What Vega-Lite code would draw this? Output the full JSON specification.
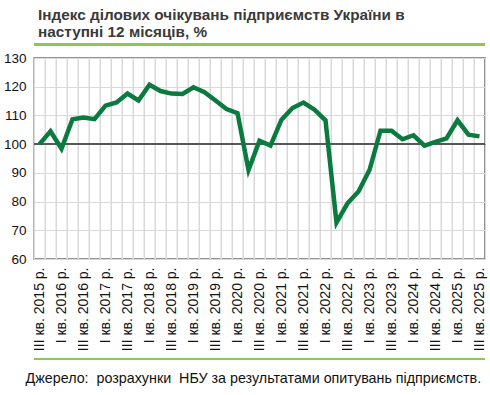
{
  "$schema": "https://vega.github.io/schema/vega-lite/v6.json",
  "autosize": {"type": "none"},
  "width": 451,
  "height": 201,
  "padding": {"left": 34, "top": 58, "right": 5, "bottom": 136},
  "background": "white",
  "config": {
    "font": "Liberation Sans",
    "view": {"stroke": "#707070", "strokeWidth": 1.5}
  },
  "title": {
    "text": ["Індекс ділових очікувань підприємств України в", "наступні 12 місяців, %"],
    "anchor": "start",
    "frame": "group",
    "dx": 4,
    "offset": 3,
    "fontSize": 15.3,
    "fontWeight": "bold",
    "lineHeight": 17,
    "color": "#3a3a3a",
    "font": "Liberation Sans"
  },
  "data": {
    "values": [
      {"q": "III кв. 2015 р.", "v": 100},
      {"q": "IV кв. 2015 р.", "v": 104.5},
      {"q": "I кв. 2016 р.", "v": 98.4},
      {"q": "II кв. 2016 р.", "v": 108.7},
      {"q": "III кв. 2016 р.", "v": 109.3},
      {"q": "IV кв. 2016 р.", "v": 108.7},
      {"q": "I кв. 2017 р.", "v": 113.4},
      {"q": "II кв. 2017 р.", "v": 114.5},
      {"q": "III кв. 2017 р.", "v": 117.6},
      {"q": "IV кв. 2017 р.", "v": 115.2},
      {"q": "I кв. 2018 р.", "v": 120.7},
      {"q": "II кв. 2018 р.", "v": 118.5},
      {"q": "III кв. 2018 р.", "v": 117.6},
      {"q": "IV кв. 2018 р.", "v": 117.5},
      {"q": "I кв. 2019 р.", "v": 119.8},
      {"q": "II кв. 2019 р.", "v": 118.1},
      {"q": "III кв. 2019 р.", "v": 115.2},
      {"q": "IV кв. 2019 р.", "v": 112.2},
      {"q": "I кв. 2020 р.", "v": 110.8},
      {"q": "II кв. 2020 р.", "v": 91.0},
      {"q": "III кв. 2020 р.", "v": 101.2},
      {"q": "IV кв. 2020 р.", "v": 99.5},
      {"q": "I кв. 2021 р.", "v": 108.5},
      {"q": "II кв. 2021 р.", "v": 112.6},
      {"q": "III кв. 2021 р.", "v": 114.5},
      {"q": "IV кв. 2021 р.", "v": 112.0},
      {"q": "I кв. 2022 р.", "v": 108.3},
      {"q": "II кв. 2022 р.", "v": 72.7},
      {"q": "III кв. 2022 р.", "v": 79.4},
      {"q": "IV кв. 2022 р.", "v": 83.5},
      {"q": "I кв. 2023 р.", "v": 91.0},
      {"q": "II кв. 2023 р.", "v": 104.7},
      {"q": "III кв. 2023 р.", "v": 104.7},
      {"q": "IV кв. 2023 р.", "v": 101.7},
      {"q": "I кв. 2024 р.", "v": 103.1},
      {"q": "II кв. 2024 р.", "v": 99.5},
      {"q": "III кв. 2024 р.", "v": 100.8},
      {"q": "IV кв. 2024 р.", "v": 102.0},
      {"q": "I кв. 2025 р.", "v": 108.3},
      {"q": "II кв. 2025 р.", "v": 103.3},
      {"q": "III кв. 2025 р.", "v": 102.7}
    ]
  },
  "layer": [
    {
      "mark": {"type": "rule", "color": "#d9d9d9", "strokeWidth": 1},
      "encoding": {
        "x": {
          "field": "q",
          "type": "ordinal",
          "sort": null,
          "bandPosition": 0,
          "scale": {"type": "band", "paddingInner": 0, "paddingOuter": 0},
          "axis": {
            "title": "Джерело:\u00a0 розрахунки\u00a0 НБУ за результатами опитувань підприємств.",
            "titleFontSize": 14.3,
            "titleFontWeight": "normal",
            "titleColor": "#111111",
            "titleAnchor": "start",
            "titleAlign": "left",
            "titleBaseline": "middle",
            "titleX": -9,
            "titleY": 119,
            "labelExpr": "isString(datum.value) && (indexof(datum.value, 'I кв.') === 0 || indexof(datum.value, 'III кв.') === 0) ? datum.value : ''",
            "labelAngle": -90,
            "labelFontSize": 14,
            "labelColor": "#111111",
            "labelPadding": 8,
            "labelOverlap": false,
            "ticks": false,
            "domain": false,
            "grid": true,
            "tickBand": "extent",
            "gridColor": "#d9d9d9",
            "gridWidth": 1
          }
        },
        "y": {
          "datum": 60,
          "type": "quantitative",
          "scale": {"domain": [60, 130], "nice": false, "zero": false},
          "axis": {
            "title": null,
            "values": [60, 70, 80, 90, 100, 110, 120, 130],
            "labelFontSize": 13.5,
            "labelColor": "#111111",
            "labelPadding": 8,
            "labelOverlap": false,
            "ticks": false,
            "domain": false,
            "grid": true,
            "gridColor": {"condition": {"test": "datum.value === 100", "value": "#595959"}, "value": "#d9d9d9"},
            "gridWidth": 1
          }
        },
        "y2": {"datum": 130}
      }
    },
    {
      "mark": {"type": "rule", "color": "#595959", "strokeWidth": 1},
      "encoding": {
        "y": {
          "datum": 100,
          "type": "quantitative",
          "scale": {"domain": [60, 130], "nice": false, "zero": false},
          "axis": {
            "title": null,
            "values": [60, 70, 80, 90, 100, 110, 120, 130],
            "labelFontSize": 13.5,
            "labelColor": "#111111",
            "labelPadding": 8,
            "labelOverlap": false,
            "ticks": false,
            "domain": false,
            "grid": true,
            "gridColor": {"condition": {"test": "datum.value === 100", "value": "#595959"}, "value": "#d9d9d9"},
            "gridWidth": 1
          }
        }
      }
    },
    {
      "mark": {"type": "line", "color": "#0a7a3e", "strokeWidth": 4.5},
      "encoding": {
        "x": {
          "field": "q",
          "type": "ordinal",
          "sort": null,
          "scale": {"type": "band", "paddingInner": 0, "paddingOuter": 0},
          "axis": {
            "title": "Джерело:\u00a0 розрахунки\u00a0 НБУ за результатами опитувань підприємств.",
            "titleFontSize": 14.3,
            "titleFontWeight": "normal",
            "titleColor": "#111111",
            "titleAnchor": "start",
            "titleAlign": "left",
            "titleBaseline": "middle",
            "titleX": -9,
            "titleY": 119,
            "labelExpr": "isString(datum.value) && (indexof(datum.value, 'I кв.') === 0 || indexof(datum.value, 'III кв.') === 0) ? datum.value : ''",
            "labelAngle": -90,
            "labelFontSize": 14,
            "labelColor": "#111111",
            "labelPadding": 8,
            "labelOverlap": false,
            "ticks": false,
            "domain": false,
            "grid": true,
            "tickBand": "extent",
            "gridColor": "#d9d9d9",
            "gridWidth": 1
          }
        },
        "y": {
          "field": "v",
          "type": "quantitative",
          "scale": {"domain": [60, 130], "nice": false, "zero": false},
          "axis": {
            "title": null,
            "values": [60, 70, 80, 90, 100, 110, 120, 130],
            "labelFontSize": 13.5,
            "labelColor": "#111111",
            "labelPadding": 8,
            "labelOverlap": false,
            "ticks": false,
            "domain": false,
            "grid": true,
            "gridColor": {"condition": {"test": "datum.value === 100", "value": "#595959"}, "value": "#d9d9d9"},
            "gridWidth": 1
          }
        }
      }
    },
    {
      "mark": {"type": "rule", "color": "#8dc756", "strokeWidth": 2},
      "encoding": {
        "y": {
          "datum": 134.6,
          "type": "quantitative",
          "scale": {"domain": [60, 130], "nice": false, "zero": false},
          "axis": {
            "title": null,
            "values": [60, 70, 80, 90, 100, 110, 120, 130],
            "labelFontSize": 13.5,
            "labelColor": "#111111",
            "labelPadding": 8,
            "labelOverlap": false,
            "ticks": false,
            "domain": false,
            "grid": true,
            "gridColor": {"condition": {"test": "datum.value === 100", "value": "#595959"}, "value": "#d9d9d9"},
            "gridWidth": 1
          }
        }
      }
    },
    {
      "mark": {"type": "rule", "color": "#8dc756", "strokeWidth": 2},
      "encoding": {
        "y": {
          "datum": 25.2,
          "type": "quantitative",
          "scale": {"domain": [60, 130], "nice": false, "zero": false},
          "axis": {
            "title": null,
            "values": [60, 70, 80, 90, 100, 110, 120, 130],
            "labelFontSize": 13.5,
            "labelColor": "#111111",
            "labelPadding": 8,
            "labelOverlap": false,
            "ticks": false,
            "domain": false,
            "grid": true,
            "gridColor": {"condition": {"test": "datum.value === 100", "value": "#595959"}, "value": "#d9d9d9"},
            "gridWidth": 1
          }
        }
      }
    }
  ]
}
